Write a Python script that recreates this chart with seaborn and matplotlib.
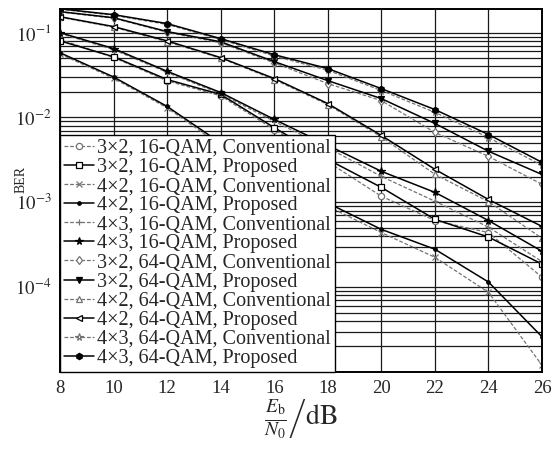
import matplotlib
matplotlib.use("Agg")
import matplotlib.pyplot as plt
from matplotlib.ticker import LogLocator, NullFormatter, FixedLocator
import seaborn as sns

# Eb/N0 in dB
snr = [8, 10, 12, 14, 16, 18, 20, 22, 24, 26]

labels = [
    "3×2, 16-QAM, Conventional",
    "3×2, 16-QAM, Proposed",
    "4×2, 16-QAM, Conventional",
    "4×2, 16-QAM, Proposed",
    "4×3, 16-QAM, Conventional",
    "4×3, 16-QAM, Proposed",
    "3×2, 64-QAM, Conventional",
    "3×2, 64-QAM, Proposed",
    "4×2, 64-QAM, Conventional",
    "4×2, 64-QAM, Proposed",
    "4×3, 64-QAM, Conventional",
    "4×3, 64-QAM, Proposed",
]

ber_3x2_16_conv = [0.083, 0.051, 0.027, 0.018, 0.0072, 0.0030, 0.00118, 6.1e-4, 4.4e-4, 1.31e-4]
ber_3x2_16_prop = [0.080, 0.052, 0.028, 0.0187, 0.0076, 0.0032, 0.0015, 6.3e-4, 3.9e-4, 1.87e-4]
ber_4x2_16_conv = [0.056, 0.029, 0.013, 0.0047, 0.0020, 0.0009, 4.4e-4, 2.25e-4, 8.7e-5, 1.2e-5]
ber_4x2_16_prop = [0.058, 0.030, 0.0135, 0.0050, 0.0022, 0.00098, 4.8e-4, 2.8e-4, 1.15e-4, 2.6e-5]
ber_4x3_16_conv = [0.098, 0.063, 0.034, 0.019, 0.0090, 0.0044, 0.00202, 0.00103, 5.1e-4, 2.0e-4]
ber_4x3_16_prop = [0.100, 0.065, 0.035, 0.0197, 0.0095, 0.0047, 0.00232, 0.00131, 6.1e-4, 2.65e-4]
ber_3x2_64_conv = [0.175, 0.148, 0.101, 0.076, 0.044, 0.0251, 0.0158, 0.00667, 0.00348, 0.00163]
ber_3x2_64_prop = [0.177, 0.150, 0.103, 0.078, 0.0456, 0.0272, 0.0167, 0.0085, 0.0040, 0.00213]
ber_4x2_64_conv = [0.152, 0.116, 0.078, 0.050, 0.028, 0.0142, 0.0059, 0.00214, 0.00102, 3.77e-4]
ber_4x2_64_prop = [0.154, 0.118, 0.080, 0.0508, 0.0288, 0.0146, 0.00614, 0.00245, 0.00108, 5.2e-4]
ber_4x3_64_conv = [0.189, 0.160, 0.125, 0.083, 0.053, 0.036, 0.0208, 0.0115, 0.0058, 0.00273]
ber_4x3_64_prop = [0.191, 0.163, 0.128, 0.085, 0.055, 0.0377, 0.0219, 0.0124, 0.0063, 0.00296]

series = [ber_3x2_16_conv, ber_3x2_16_prop, ber_4x2_16_conv, ber_4x2_16_prop,
          ber_4x3_16_conv, ber_4x3_16_prop, ber_3x2_64_conv, ber_3x2_64_prop,
          ber_4x2_64_conv, ber_4x2_64_prop, ber_4x3_64_conv, ber_4x3_64_prop]

markers = ["o", "s", "x", ".", "+", "*", "d", "v", "^", "<", "*", "h"]
filled = [False, False, True, True, True, True, False, True, False, False, False, True]

sns.set_style("white")
plt.rcParams["font.family"] = ["Liberation Serif", "DejaVu Serif"]
plt.rcParams["mathtext.fontset"] = "stix"

fig = plt.figure(figsize=(5.57, 4.55), dpi=100)
ax = fig.add_axes([60 / 557, 83 / 455, 482 / 557, 363 / 455])

for i, (vals, lab) in enumerate(zip(series, labels)):
    conv = i % 2 == 0
    col = "0.45" if conv else "black"
    mfc = col if filled[i] else "white"
    msize = {"*": 5.5, ".": 5}.get(markers[i], 4.5)
    sns.lineplot(x=snr, y=vals, ax=ax, label=lab, color=col,
                 linestyle=(0, (3, 1.5)) if conv else "-",
                 linewidth=0.9 if conv else 1.1,
                 marker=markers[i], markersize=msize,
                 mfc=mfc, mec=col, mew=0.9)

ax.set_yscale("log")
ax.set_xlim(8, 26)
ax.set_ylim(1e-5, 0.19)
ax.xaxis.set_major_locator(FixedLocator(snr))
ax.yaxis.set_major_locator(FixedLocator([1e-4, 1e-3, 1e-2, 1e-1]))
ax.yaxis.set_minor_locator(LogLocator(base=10, subs=range(2, 10), numticks=50))
ax.yaxis.set_minor_formatter(NullFormatter())
ax.set_yticklabels([r"$10^{-4}$", r"$10^{-3}$", r"$10^{-2}$", r"$10^{-1}$"])

ax.grid(True, which="major", axis="both", color="0.1", linewidth=0.9)
ax.grid(True, which="minor", axis="y", color="0.1", linewidth=0.9)
ax.tick_params(which="both", length=0, labelsize=13.5, pad=6)
for sp in ax.spines.values():
    sp.set_color("black")
    sp.set_linewidth(1.4)

ax.set_ylabel("BER", fontsize=10)
ax.yaxis.set_label_coords(-0.068, 0.53)
ax.set_xlabel(r"$\left.\frac{E_\mathrm{b}}{N_0}\right/\mathrm{dB}$", fontsize=20, labelpad=0)

leg = ax.legend(loc="lower left", bbox_to_anchor=(0, 0), borderaxespad=0,
                fontsize=14.5, frameon=True, fancybox=False, framealpha=1,
                edgecolor="black", labelspacing=0.0, handlelength=1.5,
                handletextpad=0.15, borderpad=0.2)
leg.get_frame().set_linewidth(1.0)

fig.savefig("out.png", dpi=100)
plt.close(fig)
